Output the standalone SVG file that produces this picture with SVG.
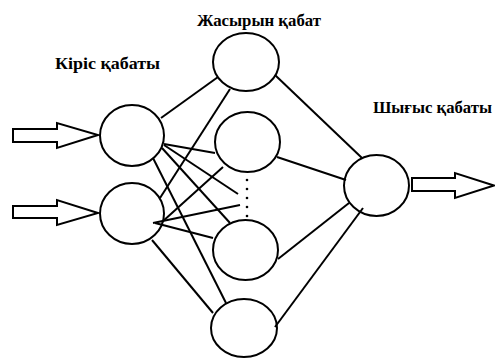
<svg xmlns="http://www.w3.org/2000/svg" width="495" height="358" viewBox="0 0 495 358">
<style>
.n{fill:#fff;stroke:#000;stroke-width:2}
.c line{stroke:#000;stroke-width:2}
.a{fill:#fff;stroke:#000;stroke-width:2;stroke-linejoin:miter}
.t{font-family:"Liberation Serif",serif;font-weight:bold;font-size:16px;fill:#000}
.d{fill:#000}
</style>
<rect width="495" height="358" fill="#fff"/>
<g id="arrow-in1"><polygon class="a" points="13,129 57,129 57,123 98,135 57,148 57,142 13,142"/></g>
<g id="arrow-in2"><polygon class="a" points="13,206 57,206 57,200 98,213 57,225 57,218 13,218"/></g>
<g id="arrow-out"><polygon class="a" points="412,178 455,178 455,173 494,185.5 455,198 455,191 412,191"/></g>
<g id="input1"><ellipse class="n" cx="132" cy="135.5" rx="32" ry="30.5"/></g>
<g id="input2"><ellipse class="n" cx="132" cy="213.5" rx="32" ry="30.5"/></g>
<g id="hidden1"><ellipse class="n" cx="246" cy="62" rx="33" ry="29"/></g>
<g id="hidden2"><ellipse class="n" cx="247.5" cy="142" rx="32.5" ry="30"/></g>
<g id="hidden3"><ellipse class="n" cx="245.5" cy="250" rx="32.5" ry="30"/></g>
<g id="hidden4"><ellipse class="n" cx="244" cy="328" rx="33" ry="29"/></g>
<g id="output"><ellipse class="n" cx="376.5" cy="185.5" rx="32.5" ry="30.5"/></g>
<g id="connectors" class="c">
<line x1="161" y1="118" x2="218" y2="77"/>
<line x1="164" y1="144" x2="215" y2="153"/>
<line x1="164" y1="145" x2="238" y2="194"/>
<line x1="162" y1="148" x2="230" y2="223"/>
<line x1="153" y1="158" x2="226" y2="303"/>
<line x1="160" y1="198" x2="230" y2="89"/>
<line x1="162" y1="222" x2="223" y2="167"/>
<line x1="153" y1="223" x2="240" y2="205"/>
<line x1="155" y1="223" x2="213" y2="238"/>
<line x1="152" y1="240" x2="213" y2="313"/>
<line x1="275" y1="75" x2="362" y2="158"/>
<line x1="277" y1="157" x2="346" y2="180"/>
<line x1="278" y1="259" x2="349" y2="203"/>
<line x1="275" y1="327" x2="363" y2="208"/>
</g>
<g id="dots">
<circle class="d" cx="247" cy="180" r="1.3"/>
<circle class="d" cx="247" cy="189" r="1.3"/>
<circle class="d" cx="247" cy="198" r="1.3"/>
<circle class="d" cx="247" cy="207" r="1.3"/>
<circle class="d" cx="247" cy="216" r="1.3"/>
</g>
<g id="labels">
<text class="t" x="197" y="26" textLength="124" lengthAdjust="spacingAndGlyphs">Жасырын қабат</text>
<text class="t" x="55" y="69" textLength="105" lengthAdjust="spacingAndGlyphs">Кіріс қабаты</text>
<text class="t" x="373" y="113" textLength="119" lengthAdjust="spacingAndGlyphs">Шығыс қабаты</text>
</g>
</svg>
